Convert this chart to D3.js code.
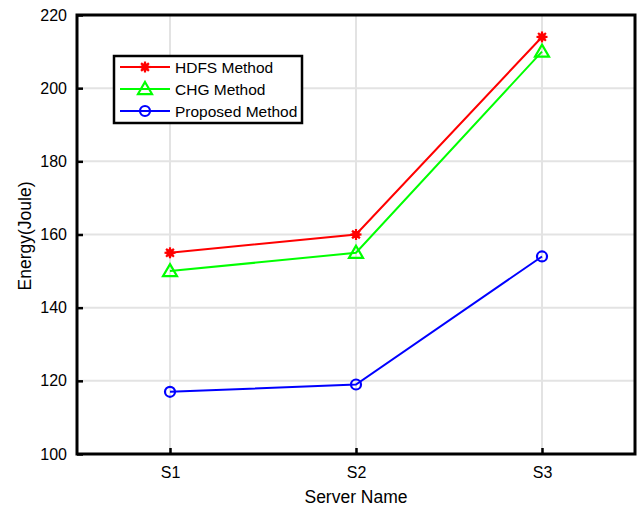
<!DOCTYPE html>
<html>
<head>
<meta charset="utf-8">
<script src="https://cdn.jsdelivr.net/npm/d3@7"></script>
<style>
  html, body { margin: 0; padding: 0; background: #fff; }
  text { font-family: "Liberation Sans", Arial, sans-serif; }
</style>
</head>
<body>
<svg id="chart" width="638" height="507"></svg>
<script>
// Server categories and measured energy per method
const servers = ["S1", "S2", "S3"];
const hdfsValues = [155, 160, 214];
const chgValues = [150, 155, 210];
const proposedValues = [117, 119, 154];
const yTicks = [100, 120, 140, 160, 180, 200, 220];

const seriesNames = ["HDFS Method", "CHG Method", "Proposed Method"];
const seriesColors = ["#ff0000", "#00ff00", "#0000ff"];
const seriesMarkers = ["star", "triangle", "circle"];
const seriesValues = [hdfsValues, chgValues, proposedValues];

const svg = d3.select("#chart");
const margin = { left: 77, right: 3, top: 15, bottom: 53 };
const W = 638, H = 507;

const x = d3.scalePoint().domain(servers).range([margin.left, W - margin.right]).padding(0.5);
const y = d3.scaleLinear().domain([100, 220]).range([H - margin.bottom, margin.top]);

// grid
const grid = svg.append("g");
grid.selectAll("line.h").data(yTicks.slice(1, -1)).join("line")
  .attr("x1", margin.left).attr("x2", W - margin.right)
  .attr("y1", d => y(d)).attr("y2", d => y(d))
  .attr("stroke", "#e3e3e3").attr("stroke-width", 2);
grid.selectAll("line.v").data(servers).join("line")
  .attr("x1", d => x(d)).attr("x2", d => x(d))
  .attr("y1", margin.top).attr("y2", H - margin.bottom)
  .attr("stroke", "#e3e3e3").attr("stroke-width", 2);

// axes with inward ticks
const yAxis = d3.axisLeft(y).tickValues(yTicks).tickSizeInner(-6).tickSizeOuter(0).tickPadding(10);
const xAxis = d3.axisBottom(x).tickSizeInner(-6).tickSizeOuter(0).tickPadding(13);

const gy = svg.append("g").attr("transform", `translate(${margin.left},0)`).call(yAxis);
const gx = svg.append("g").attr("transform", `translate(0,${H - margin.bottom})`).call(xAxis);
[gx, gy].forEach(g => {
  g.select(".domain").remove();
  g.selectAll(".tick line").attr("stroke", "#000").attr("stroke-width", 2.5);
  g.selectAll(".tick text").attr("font-size", 16).attr("fill", "#000")
    .attr("font-family", "'Liberation Sans', Arial, sans-serif");
});

// lines and markers
const line = d3.line().x((d, i) => x(servers[i])).y(d => y(d));

function drawMarker(g, type, color, cx, cy) {
  if (type === "star") {
    const r = 5.5;
    const s = g.append("g").attr("transform", `translate(${cx},${cy})`)
      .attr("stroke", color).attr("stroke-width", 2.2);
    [0, 45, 90, 135].forEach(a => {
      const rad = a * Math.PI / 180;
      s.append("line")
        .attr("x1", -r * Math.cos(rad)).attr("y1", -r * Math.sin(rad))
        .attr("x2", r * Math.cos(rad)).attr("y2", r * Math.sin(rad));
    });
    s.append("circle").attr("r", 3.8).attr("fill", color).attr("stroke", "none");
  } else if (type === "triangle") {
    const r = 7;
    g.append("path")
      .attr("d", `M${cx},${cy - r} L${cx + r},${cy + r * 0.72} L${cx - r},${cy + r * 0.72} Z`)
      .attr("fill", "none").attr("stroke", color).attr("stroke-width", 2.2);
  } else {
    g.append("circle").attr("cx", cx).attr("cy", cy).attr("r", 5)
      .attr("fill", "none").attr("stroke", color).attr("stroke-width", 2.2);
  }
}

const plot = svg.append("g");
seriesValues.forEach((vals, k) => {
  plot.append("path").datum(vals).attr("d", line)
    .attr("fill", "none").attr("stroke", seriesColors[k]).attr("stroke-width", 2);
  vals.forEach((v, i) => drawMarker(plot, seriesMarkers[k], seriesColors[k], x(servers[i]), y(v)));
});

// frame around the plot area
svg.append("rect")
  .attr("x", margin.left).attr("y", margin.top)
  .attr("width", W - margin.right - margin.left).attr("height", H - margin.bottom - margin.top)
  .attr("fill", "none").attr("stroke", "#000").attr("stroke-width", 3);

// legend
const lg = svg.append("g");
lg.append("rect").attr("x", 114).attr("y", 56).attr("width", 188).attr("height", 67)
  .attr("fill", "#fff").attr("stroke", "#000").attr("stroke-width", 2.5);
seriesNames.forEach((name, k) => {
  const ry = 67 + k * 22;
  lg.append("line").attr("x1", 120).attr("x2", 170).attr("y1", ry).attr("y2", ry)
    .attr("stroke", seriesColors[k]).attr("stroke-width", 2);
  drawMarker(lg, seriesMarkers[k], seriesColors[k], 145, ry);
  lg.append("text").attr("x", 175).attr("y", ry + 5.5).attr("font-size", 15.5)
    .attr("fill", "#000").text(name);
});

// axis titles
svg.append("text").attr("x", x("S2")).attr("y", 503).attr("text-anchor", "middle")
  .attr("font-size", 17.5).attr("fill", "#000").text("Server Name");
svg.append("text").attr("transform", `translate(31,236) rotate(-90)`)
  .attr("text-anchor", "middle").attr("font-size", 17.5).attr("fill", "#000").text("Energy(Joule)");
</script>
</body>
</html>
